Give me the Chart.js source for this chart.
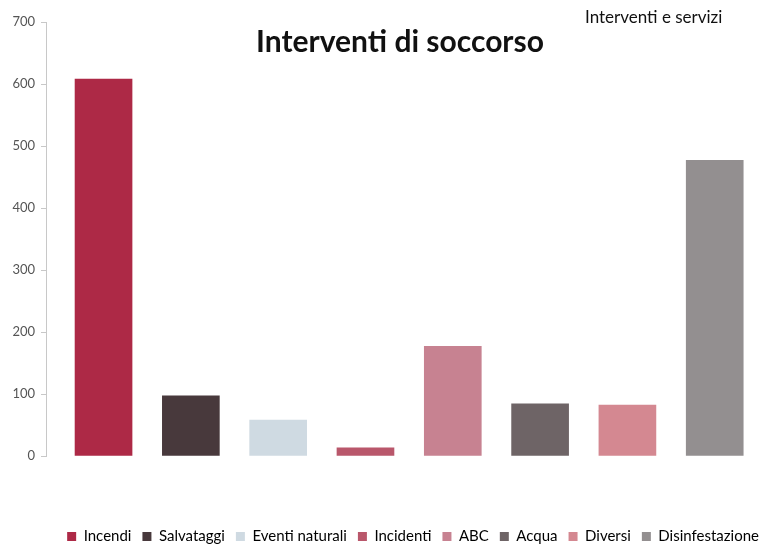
<!DOCTYPE html>
<html>
<head>
<meta charset="utf-8">
<script src="https://cdn.jsdelivr.net/npm/chart.js@4.4.1/dist/chart.umd.min.js"></script>
<style>
  html, body { margin: 0; padding: 0; background: #fff; }
  #wrap { width: 761px; height: 545px; }
</style>
</head>
<body>
<div id="wrap"><canvas id="grafic"></canvas></div>
<script>
const CATEGORIES = ['Incendi', 'Salvataggi', 'Eventi naturali', 'Incidenti', 'ABC', 'Acqua', 'Diversi', 'Disinfestazione'];
const VALUES = [608, 97, 58, 13, 177, 84, 82, 477];
const COLORS = ['#ad2946', '#48393c', '#cfdae2', '#b9576b', '#c78291', '#6e6466', '#d48891', '#938f90'];
const Y_TICKS = [0, 100, 200, 300, 400, 500, 600, 700];

const TITOL = 'Interventi di soccorso';
const SOTTOTITOL = 'Interventi e servizi';

const FONT = "Lato, 'Open Sans', sans-serif";

// titol i sottotitol sopra l'area del grafico
const textPlugin = {
  id: 'textos',
  afterDraw(chart) {
    const ctx = chart.ctx;
    ctx.save();
    ctx.fillStyle = '#111';
    ctx.textBaseline = 'middle';
    ctx.textAlign = 'center';
    ctx.font = `bold 30px ${FONT}`;
    ctx.fillText(TITOL, 400, 42);
    ctx.font = `17px ${FONT}`;
    ctx.textAlign = 'left';
    ctx.fillText(SOTTOTITOL, 585, 18);
    ctx.restore();
  }
};

new Chart(document.getElementById('grafic').getContext('2d'), {
  type: 'bar',
  data: {
    datasets: [{
      data: VALUES.map((v, i) => ({ x: i, y: v })),
      backgroundColor: COLORS,
      borderWidth: 0,
      barThickness: 57,
      grouped: false
    }]
  },
  options: {
    responsive: true,
    maintainAspectRatio: false,
    animation: false,
    layout: { padding: { top: 22, right: -9, left: 0, bottom: -9 } },
    plugins: {
      tooltip: { enabled: false },
      legend: {
        position: 'bottom',
        align: 'end',
        labels: {
          font: { family: FONT, size: 15 },
          color: '#333',
          boxWidth: 9,
          boxHeight: 9,
          padding: 11,
          generateLabels: () => CATEGORIES.map((c, i) => ({
            text: c,
            fillStyle: COLORS[i],
            strokeStyle: COLORS[i],
            lineWidth: 0,
            index: i
          }))
        }
      }
    },
    scales: {
      x: {
        type: 'linear',
        offset: false,
        min: -0.659,
        max: 7.53,
        grid: { display: false },
        border: { display: false },
        ticks: { display: false },
        afterFit: (s) => { s.height = 62; }
      },
      y: {
        min: 0,
        max: 700,
        afterFit: (s) => { s.width = 46; },
        afterBuildTicks: (s) => { s.ticks = Y_TICKS.map((v) => ({ value: v })); },
        grid: { drawOnChartArea: false, drawTicks: true, tickLength: 5, color: '#c8c8c8' },
        border: { display: true, color: '#c8c8c8' },
        ticks: { font: { family: FONT, size: 13 }, color: '#555', padding: 6 }
      }
    }
  },
  plugins: [textPlugin]
});
</script>
</body>
</html>
